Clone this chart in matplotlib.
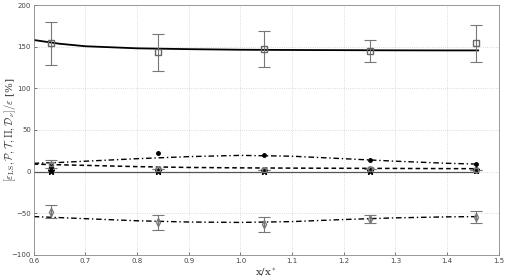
import matplotlib
matplotlib.use("Agg")
import matplotlib.pyplot as plt
import numpy as np

plt.rcParams['mathtext.fontset'] = 'cm'

# measured stations
xs = [0.633, 0.84, 1.045, 1.25, 1.455]

# eps_LS (squares, top) with error bars
eps_ls = [154, 143, 147, 144.5, 154]
eps_ls_err = [26, 22, 22, 13, 22.5]
# dissipation-like term (bottom, diamonds) with error bars
diss = [-48, -61, -63, -56.5, -54.5]
diss_err = [8, 8.5, 9, 5, 7.5]
# near-zero terms
prod = [5, 22, 19.5, 14, 9]          # black dots
turb = [9, 3.5, 2.5, 3, 2.5]          # grey squares
turb_err = [5, 0, 0, 0, 0]
press = [3.5, 3.5, 2, 3, 2]           # grey circles
visc = [0.5, 0.5, 1, 0.5, 1.5]        # stars

# fitted curves
xc = [0.6, 0.65, 0.7, 0.8, 0.9, 1.0, 1.1, 1.2, 1.3, 1.4, 1.46]
fit_ls = [158, 153.5, 150.5, 148, 147, 146.3, 146, 145.8, 145.6, 145.5, 145.5]
fit_prod = [10, 11, 12.5, 15.5, 18, 19.5, 18.5, 15.5, 12.5, 10, 9]
fit_turb = [9, 8.2, 7.5, 6, 5, 4.5, 4.2, 4, 3.8, 3.6, 3.5]
fit_diss = [-54, -55.2, -56.5, -59, -60.5, -61, -60, -57.5, -55.5, -54.3, -54]
fit_zero = [0] * len(xc)

fig, ax = plt.subplots(figsize=(5.1, 2.78), dpi=100)
fig.subplots_adjust(left=0.066, right=0.978, top=0.982, bottom=0.083)

ax.grid(True, linestyle=':', color='#d0d0d0', linewidth=0.6)

ax.plot(xc, fit_ls, '-', color='black', linewidth=1.3)
ax.plot(xc, fit_zero, '-', color='#555555', linewidth=0.9)
ax.plot(xc, fit_prod, linestyle='-.', color='black', linewidth=1.0, dashes=(4, 2, 1, 2))
ax.plot(xc, fit_turb, linestyle='--', color='black', linewidth=1.1, dashes=(3, 2))
ax.plot(xc, fit_diss, linestyle='-.', color='black', linewidth=1.0, dashes=(4, 2, 1, 2))

ax.errorbar(xs, eps_ls, yerr=eps_ls_err, fmt='s', mfc='none', mec='#666666', ms=4,
            ecolor='#777777', elinewidth=0.8, capsize=4, capthick=0.8)
ax.errorbar(xs, diss, yerr=diss_err, fmt='d', mfc='none', mec='#777777', ms=4,
            ecolor='#777777', elinewidth=0.8, capsize=4, capthick=0.8)
ax.errorbar(xs, turb, yerr=turb_err, fmt='s', mfc='none', mec='#777777', ms=3.5,
            ecolor='#777777', elinewidth=0.8, capsize=4, capthick=0.8)
ax.plot(xs, press, 'o', mfc='none', mec='#888888', ms=4)
ax.plot(xs, prod, 'o', color='black', ms=2.5)
ax.plot(xs, visc, '*', color='black', ms=5)

ax.set_xlim(0.6, 1.5)
ax.set_ylim(-100, 200)
ax.set_xticks(np.arange(0.6, 1.51, 0.1))
ax.set_yticks(np.arange(-100, 201, 50))
ax.tick_params(labelsize=5, colors='#444444', length=2, width=0.5, direction='in', pad=2)
for s in ax.spines.values():
    s.set_color('#888888')
    s.set_linewidth(0.6)

ax.set_xlabel(r'x/x$^*$', fontsize=7.5, family='serif', color='#333333')
ax.xaxis.set_label_coords(0.5, -0.045)
ax.set_ylabel(r'$[\varepsilon_{\rm LS},\mathcal{P},\mathcal{T},\Pi,\mathcal{D}_\nu]/\varepsilon$ [%]',
              fontsize=7.5, family='serif', color='#333333')
ax.yaxis.set_label_coords(-0.034, 0.5)

fig.savefig('out.png', dpi=100)
